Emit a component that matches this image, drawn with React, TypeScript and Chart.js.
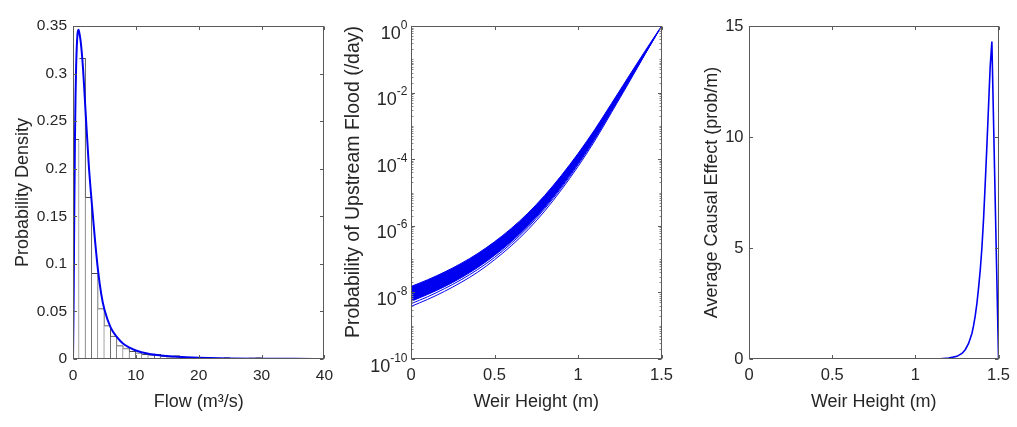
import React, { useEffect, useRef } from 'react';
import { Chart, registerables } from 'chart.js';

Chart.register(...registerables);

const FONT = "'Liberation Sans', Arial, Helvetica, sans-serif";
const TEXT = '#262626';
const BLUE = '#0000f0';
const AXIS = '#5a5a5a';

// ---------- Panel 1: flow histogram + density ----------
const flowBinWidth = 1;
const flowBinDensity = [
  0.231, 0.316, 0.170, 0.090, 0.053, 0.035, 0.024, 0.014, 0.011, 0.008,
  0.0065, 0.005, 0.0045, 0.005, 0.003, 0.0022, 0.0035, 0.002, 0.0012, 0.001,
  0.0009, 0.0007, 0.0006, 0.0005, 0.0015, 0.0004, 0.0003, 0.0003, 0.0012, 0.0015,
  0.0002, 0.0002, 0.0001, 0.0001, 0.0001, 0.0001, 0.00005, 0.00005, 0.00005, 0.00005,
];
const flowCurveX = [0, 0.1, 0.2, 0.3, 0.4, 0.5, 0.6, 0.7, 0.8, 0.9, 1.0, 1.2, 1.4, 1.6, 1.8, 2.0, 2.5, 3, 3.5, 4, 4.5, 5, 6, 7, 8, 9, 10, 12, 14, 16, 18, 20, 25, 30, 35, 40];
const flowCurveY = [0, 0.06, 0.15, 0.225, 0.275, 0.308, 0.328, 0.34, 0.345, 0.346, 0.343, 0.335, 0.322, 0.305, 0.283, 0.26, 0.205, 0.163, 0.125, 0.092, 0.068, 0.052, 0.033, 0.023, 0.016, 0.012, 0.009, 0.0055, 0.0036, 0.0025, 0.0018, 0.0013, 0.0006, 0.0003, 0.00015, 0.00008];
const flowXTicks = [0, 10, 20, 30, 40];
const flowYTicks = [0, 0.05, 0.1, 0.15, 0.2, 0.25, 0.3, 0.35];

// ---------- Panel 2: probability of upstream flood (log) ----------
const weirX = [0, 0.1, 0.2, 0.3, 0.4, 0.5, 0.6, 0.7, 0.8, 0.9, 1.0, 1.1, 1.2, 1.3, 1.4, 1.5];
const floodUpper = [1.51e-8, 2.40e-8, 4.07e-8, 7.41e-8, 1.48e-7, 3.31e-7, 8.32e-7, 2.40e-6, 8.13e-6, 3.24e-5, 1.48e-4, 7.76e-4, 4.68e-3, 2.88e-2, 0.174, 1];
const floodLower = [5.37e-9, 8.71e-9, 1.48e-8, 2.75e-8, 5.62e-8, 1.29e-7, 3.31e-7, 1.0e-6, 3.55e-6, 1.51e-5, 7.41e-5, 4.27e-4, 2.88e-3, 2.04e-2, 0.145, 1];
const floodLineA = [4.57e-9, 7.41e-9, 1.29e-8, 2.40e-8, 4.90e-8, 1.12e-7, 2.95e-7, 8.91e-7, 3.24e-6, 1.38e-5, 6.92e-5, 3.98e-4, 2.75e-3, 1.95e-2, 0.141, 1];
const floodLineB = [3.80e-9, 6.17e-9, 1.07e-8, 2.00e-8, 4.07e-8, 9.55e-8, 2.51e-7, 7.59e-7, 2.75e-6, 1.20e-5, 6.03e-5, 3.55e-4, 2.51e-3, 1.82e-2, 0.138, 1];
const floodYTicks = [1e-10, 1e-8, 1e-6, 1e-4, 1e-2, 1];
const floodYTickBase = '10';
const floodYTickExponents = ['-10', '-8', '-6', '-4', '-2', '0'];
const weirXTicks = [0, 0.5, 1, 1.5];
const weirXTickLabels = ['0', '0.5', '1', '1.5'];

// ---------- Panel 3: average causal effect ----------
const aceX = [0, 0.5, 1.0, 1.05, 1.1, 1.15, 1.2, 1.25, 1.28, 1.3, 1.32, 1.34, 1.35, 1.36, 1.37, 1.38, 1.39, 1.40, 1.41, 1.42, 1.43, 1.44, 1.45, 1.46, 1.5];
const aceY = [0, 0, 0.0002, 0.001, 0.003, 0.012, 0.04, 0.12, 0.25, 0.42, 0.7, 1.15, 1.5, 1.95, 2.5, 3.2, 4.0, 5.0, 6.3, 7.9, 9.6, 11.4, 13.2, 14.3, 0];
const aceYTicks = [0, 5, 10, 15];

// ---------- helpers ----------
const pts = (xs: number[], ys: number[]) => xs.map((x, i) => ({ x, y: ys[i] }));

const boxPlugin = {
  id: 'matlabBox',
  afterDraw(chart: any, _args: any, opts: any) {
    const { ctx, chartArea: ca } = chart;
    const xs = chart.scales.x;
    const ys = chart.scales.y;
    const L = Math.round(ca.left) + 0.5;
    const R = Math.round(ca.right) - 0.5;
    const T = Math.round(ca.top) + 0.5;
    const B = Math.round(ca.bottom) - 0.5;
    const major = 3.5;
    const minor = 2;
    ctx.save();
    ctx.strokeStyle = AXIS;
    ctx.lineWidth = 1;
    ctx.beginPath();
    xs.ticks.forEach((t: any) => {
      const p = Math.round(xs.getPixelForValue(t.value)) + 0.5;
      ctx.moveTo(p, B); ctx.lineTo(p, B - major);
      ctx.moveTo(p, T); ctx.lineTo(p, T + major);
    });
    ys.ticks.forEach((t: any) => {
      const p = Math.round(ys.getPixelForValue(t.value)) + 0.5;
      ctx.moveTo(L, p); ctx.lineTo(L + major, p);
      ctx.moveTo(R, p); ctx.lineTo(R - major, p);
    });
    ctx.stroke();
    if (opts && opts.yMinor) {
      ctx.beginPath();
      ctx.strokeStyle = '#8a8a8a';
      opts.yMinor.forEach((v: number) => {
        const p = Math.round(ys.getPixelForValue(v)) + 0.5;
        if (p <= T + 1 || p >= B - 1) return;
        ctx.moveTo(L, p); ctx.lineTo(L + minor, p);
        ctx.moveTo(R, p); ctx.lineTo(R - minor, p);
      });
      ctx.stroke();
    }
    ctx.strokeStyle = AXIS;
    ctx.strokeRect(L, T, R - L, B - T);

    // power-of-ten tick labels: base with raised exponent
    if (opts && opts.powerLabels) {
      const { base, exps } = opts.powerLabels;
      const right = ca.left - 3.5;
      ctx.fillStyle = TEXT;
      ys.ticks.forEach((t: any, i: number) => {
        const p = ys.getPixelForValue(t.value);
        ctx.font = `12px ${FONT}`;
        const ew = ctx.measureText(exps[i]).width;
        ctx.textBaseline = 'alphabetic';
        ctx.textAlign = 'left';
        ctx.fillText(exps[i], right - ew, p + 2.5);
        ctx.font = `18px ${FONT}`;
        ctx.textAlign = 'right';
        ctx.fillText(base, right - ew, p + 12.5);
      });
    }
    ctx.restore();
  },
};

interface AxisSpec {
  min: number; max: number; ticks: number[]; labels: string[]; title: string;
}

function makeOptions(opt: {
  x: AxisSpec; y: AxisSpec & { type?: string };
  yWidth: number; rightPad: number; yTitlePad: number; yTickPad: number;
  tickSize: number; yTitleSize?: number; yTitleAlign?: string;
  yMinor?: number[]; powerLabels?: any;
}) {
  const tickFont = { family: FONT, size: opt.tickSize };
  const titleFont = { family: FONT, size: 18 };
  return {
    responsive: false,
    animation: false,
    devicePixelRatio: 1,
    layout: { padding: { left: 0, top: 26, right: opt.rightPad, bottom: 0 } },
    plugins: {
      legend: { display: false },
      tooltip: { enabled: false },
      matlabBox: { yMinor: opt.yMinor, powerLabels: opt.powerLabels },
    },
    scales: {
      x: {
        type: 'linear',
        min: opt.x.min,
        max: opt.x.max,
        offset: false,
        grid: { display: false, drawTicks: false },
        border: { display: false },
        afterBuildTicks: (s: any) => { s.ticks = opt.x.ticks.map((v) => ({ value: v })); },
        afterFit: (s: any) => { s.height = 68; },
        ticks: {
          padding: 7, font: tickFont, color: TEXT, maxRotation: 0, autoSkip: false,
          callback: (_v: any, i: number) => opt.x.labels[i],
        },
        title: { display: true, text: opt.x.title, font: titleFont, color: TEXT, padding: { top: 0, bottom: 14 } },
      },
      y: {
        type: opt.y.type || 'linear',
        min: opt.y.min,
        max: opt.y.max,
        grid: { display: false, drawTicks: false },
        border: { display: false },
        afterBuildTicks: (s: any) => { s.ticks = opt.y.ticks.map((v) => ({ value: v })); },
        afterFit: (s: any) => { s.width = opt.yWidth; },
        ticks: {
          padding: opt.yTickPad, font: tickFont, color: TEXT, autoSkip: false,
          callback: (_v: any, i: number) => opt.y.labels[i],
        },
        title: {
          display: true, text: opt.y.title, color: TEXT,
          align: opt.yTitleAlign || 'center',
          font: { family: FONT, size: opt.yTitleSize || 18 },
          padding: { top: opt.yTitlePad, bottom: 0 },
        },
      },
    },
  };
}

const fmt = (v: number) => String(+v.toFixed(2));

function buildFlowConfig(): any {
  const binCenters = flowBinDensity.map((_, i) => i * flowBinWidth + flowBinWidth / 2);
  return {
    type: 'bar',
    data: {
      datasets: [
        {
          type: 'line',
          data: pts(flowCurveX, flowCurveY),
          borderColor: BLUE,
          borderWidth: 2,
          pointRadius: 0,
          cubicInterpolationMode: 'monotone',
          fill: false,
          order: 0,
        },
        {
          type: 'bar',
          data: pts(binCenters, flowBinDensity),
          backgroundColor: '#ffffff',
          borderColor: '#4a4a4a',
          borderWidth: 1,
          borderSkipped: 'left',
          barPercentage: 1,
          categoryPercentage: 1,
          grouped: false,
          order: 1,
        },
      ],
    },
    options: makeOptions({
      x: { min: 0, max: 40, ticks: flowXTicks, labels: flowXTicks.map(fmt), title: 'Flow (m³/s)' },
      y: { min: 0, max: 0.35, ticks: flowYTicks, labels: flowYTicks.map(fmt), title: 'Probability Density' },
      yWidth: 73, rightPad: 12, yTitlePad: 12, yTickPad: 6, tickSize: 15.5,
    }),
    plugins: [boxPlugin],
  };
}

function buildFloodConfig(): any {
  const minor: number[] = [];
  for (let e = -10; e < 0; e++) {
    for (let m = 1; m <= 9; m++) {
      if (m === 1 && e % 2 === 0) continue;
      minor.push(m * Math.pow(10, e));
    }
  }
  const line = (ys: number[], extra: any = {}) => ({
    type: 'line',
    data: pts(weirX, ys),
    borderColor: BLUE,
    borderWidth: 1,
    pointRadius: 0,
    cubicInterpolationMode: 'monotone',
    fill: false,
    ...extra,
  });
  return {
    type: 'line',
    data: {
      datasets: [
        line(floodUpper, { fill: '+1', backgroundColor: BLUE }),
        line(floodLower),
        line(floodLineA),
        line(floodLineB),
      ],
    },
    options: makeOptions({
      x: { min: 0, max: 1.5, ticks: weirXTicks, labels: weirXTickLabels, title: 'Weir Height (m)' },
      y: {
        type: 'logarithmic', min: 1e-10, max: 1, ticks: floodYTicks,
        labels: floodYTicks.map(() => ''), title: 'Probability of Upstream Flood (/day)',
      },
      yWidth: 71, rightPad: 15, yTitlePad: 1.5, yTickPad: 4, tickSize: 16.5,
      yTitleSize: 19.5, yTitleAlign: 'end',
      yMinor: minor,
      powerLabels: { base: floodYTickBase, exps: floodYTickExponents },
    }),
    plugins: [boxPlugin],
  };
}

function buildAceConfig(): any {
  return {
    type: 'line',
    data: {
      datasets: [
        {
          data: pts(aceX, aceY),
          borderColor: BLUE,
          borderWidth: 1.6,
          pointRadius: 0,
          tension: 0,
          fill: false,
        },
      ],
    },
    options: makeOptions({
      x: { min: 0, max: 1.5, ticks: weirXTicks, labels: weirXTickLabels, title: 'Weir Height (m)' },
      y: { min: 0, max: 15, ticks: aceYTicks, labels: aceYTicks.map(fmt), title: 'Average Causal Effect (prob/m)' },
      yWidth: 69, rightPad: 13, yTitlePad: 21, yTickPad: 5.5, tickSize: 16.5,
    }),
    plugins: [boxPlugin],
  };
}

function Panel({ left, width, build }: { left: number; width: number; build: () => any }) {
  const ref = useRef<HTMLCanvasElement>(null);
  useEffect(() => {
    const chart = new Chart(ref.current as HTMLCanvasElement, build());
    return () => chart.destroy();
  }, []);
  return (
    <canvas
      ref={ref}
      width={width}
      height={427}
      style={{ position: 'absolute', left, top: 0, width, height: 427 }}
    />
  );
}

export default function App() {
  return (
    <div style={{ position: 'absolute', left: 0, top: 0, width: 1017, height: 427, background: '#ffffff', overflow: 'hidden' }}>
      <Panel left={0} width={340} build={buildFlowConfig} />
      <Panel left={340} width={340} build={buildFloodConfig} />
      <Panel left={680} width={337} build={buildAceConfig} />
    </div>
  );
}
